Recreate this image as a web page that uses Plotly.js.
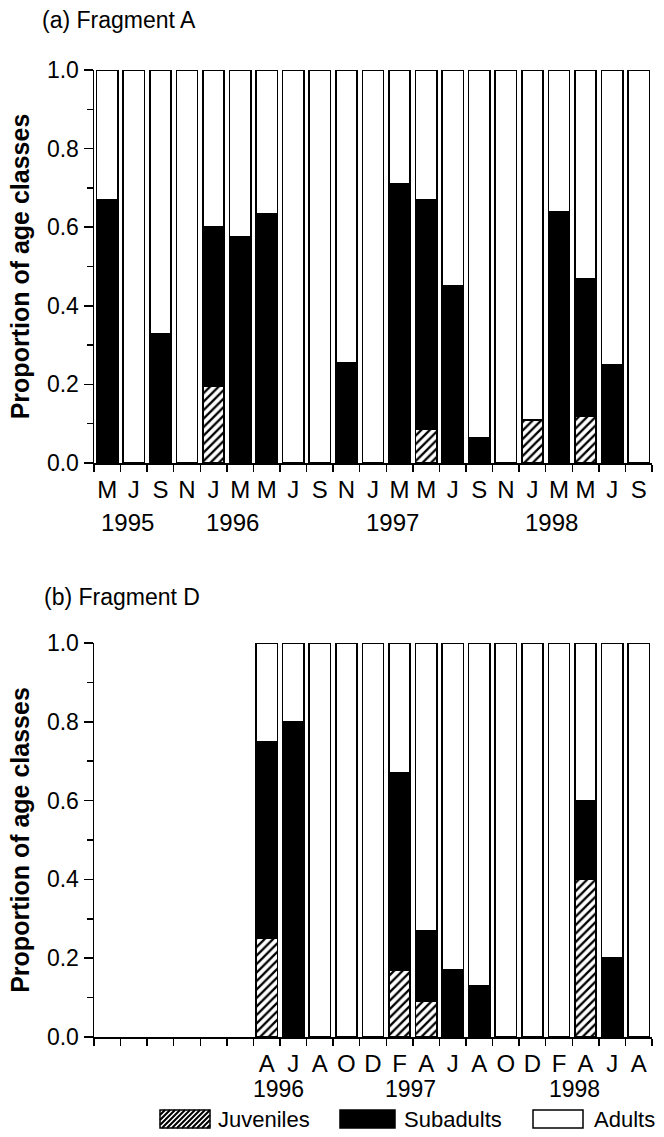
<!DOCTYPE html>
<html>
<head>
<meta charset="utf-8">
<script src="https://cdn.plot.ly/plotly-3.0.1.min.js"></script>
<style>html,body{margin:0;padding:0;background:#fff;}#chart{width:664px;height:1137px;}</style>
</head>
<body>
<div id="chart"></div>
<script>
// ---- Data: (a) Fragment A ----
const monthsA = ['M','J','S','N','J','M','M','J','S','N','J','M','M','J','S','N','J','M','M','J','S'];
const yearsA = ['1995','1996','1997','1998'];
const yearPosA = [0.75, 4.7, 10.75, 16.7];
const juvA   = [null,null,null,null,0.195,null,null,null,null,null,null,null,0.085,null,null,null,0.11,null,0.12,null,null];
const subA   = [0.67,null,0.33,null,0.405,0.575,0.635,null,null,0.255,null,0.71,0.585,0.45,0.065,null,null,0.64,0.35,0.25,null];
const adultA = [0.33,1,0.67,1,0.40,0.425,0.365,1,1,0.745,1,0.29,0.33,0.55,0.935,1,0.89,0.36,0.53,0.75,1];

// ---- Data: (b) Fragment D ----
const monthsD = ['','','','','','','A','J','A','O','D','F','A','J','A','O','D','F','A','J','A'];
const yearsD = ['1996','1997','1998'];
const yearPosD = [6.45, 11.4, 17.6];
const juvD   = [null,null,null,null,null,null,0.25,null,null,null,null,0.17,0.09,null,null,null,null,null,0.40,null,null];
const subD   = [null,null,null,null,null,null,0.50,0.80,null,null,null,0.50,0.18,0.17,0.13,null,null,null,0.20,0.20,null];
const adultD = [null,null,null,null,null,null,0.25,0.20,1,1,1,0.33,0.73,0.83,0.87,1,1,1,0.40,0.80,1];

const seriesNames = ['Juveniles','Subadults','Adults'];

// ---- Layout geometry ----
const W = 664, H = 1137, ML = 94, MR = 12;
const PW = W - ML - MR;
const px2x = p => (p - ML) / PW;
const px2y = p => (H - p) / H;
const FONT = 'Liberation Sans, Arial, Helvetica, sans-serif';

const idx = monthsA.map((_, i) => i);
const bounds = idx.concat([monthsA.length]).map(i => i - 0.5);

const lineStyle = {color:'#000', width:1.5};
const hatch = {shape:'/', fgcolor:'#000', bgcolor:'#fff', size:6, solidity:0.38, fillmode:'replace'};

function traces(juv, sub, adult, xa, ya) {
  return [
    {type:'bar', x:idx, y:juv, name:seriesNames[0], xaxis:xa, yaxis:ya, showlegend:false,
     marker:{color:'#fff', pattern:hatch, line:lineStyle}, hoverinfo:'skip'},
    {type:'bar', x:idx, y:sub, name:seriesNames[1], xaxis:xa, yaxis:ya, showlegend:false,
     marker:{color:'#000', line:lineStyle}, hoverinfo:'skip'},
    {type:'bar', x:idx, y:adult, name:seriesNames[2], xaxis:xa, yaxis:ya, showlegend:false,
     marker:{color:'#fff', line:lineStyle}, hoverinfo:'skip'}
  ];
}

const data = traces(juvA, subA, adultA, 'x', 'y').concat(traces(juvD, subD, adultD, 'x2', 'y2'));

function xaxis(labels, anchor) {
  return {
    anchor: anchor, domain:[0,1], range:[-0.5, labels.length - 0.5],
    tickmode:'array', tickvals: idx, ticktext: labels, ticks:'', ticklabelstandoff: 5,
    tickfont:{size:24, color:'#000', family:FONT},
    showline:true, linecolor:'#000', linewidth:1.5, showgrid:false, zeroline:false,
    minor:{tickmode:'array', tickvals: bounds, ticks:'outside', ticklen:7, tickwidth:1.5, tickcolor:'#000', showgrid:false},
    fixedrange:true
  };
}
function yaxis(domain, anchor) {
  return {
    anchor: anchor, domain: domain, range:[0,1],
    tickmode:'array', tickvals:[0,0.2,0.4,0.6,0.8,1.0], tickformat:'.1f',
    ticks:'outside', ticklen:9, tickwidth:1.5, tickcolor:'#000',
    tickfont:{size:23, color:'#000', family:FONT},
    minor:{tickmode:'array', tickvals:[0.1,0.3,0.5,0.7,0.9], ticks:'outside', ticklen:6, tickwidth:1.5, tickcolor:'#000', showgrid:false},
    showline:true, linecolor:'#000', linewidth:1.5, showgrid:false, zeroline:false,
    title:{text:'<b>Proportion of age classes</b>', font:{size:25, color:'#000', family:FONT}, standoff:10},
    fixedrange:true
  };
}

const annotations = [];
annotations.push({xref:'paper', yref:'paper', x:px2x(40), y:px2y(20), xanchor:'left', yanchor:'middle',
  text:'(a) Fragment A', showarrow:false, font:{size:23, color:'#000', family:FONT}});
annotations.push({xref:'paper', yref:'paper', x:px2x(42), y:px2y(597), xanchor:'left', yanchor:'middle',
  text:'(b) Fragment D', showarrow:false, font:{size:23, color:'#000', family:FONT}});
yearsA.forEach((t, i) => annotations.push({xref:'x', yref:'paper', x:yearPosA[i], y:px2y(522), yanchor:'middle',
  text:t, showarrow:false, font:{size:24, color:'#000', family:FONT}}));
yearsD.forEach((t, i) => annotations.push({xref:'x2', yref:'paper', x:yearPosD[i], y:px2y(1089), yanchor:'middle',
  text:t, showarrow:false, font:{size:23, color:'#000', family:FONT}}));

// ---- Custom legend ----
const shapes = [];
const legY0 = 1110, legY1 = 1128;
const legItems = [
  {x0:160, x1:210, kind:'hatch', label:seriesNames[0], tx:216},
  {x0:340, x1:395, kind:'black', label:seriesNames[1], tx:402},
  {x0:533, x1:583, kind:'white', label:seriesNames[2], tx:592}
];
legItems.forEach(it => {
  if (it.kind === 'hatch') {
    const h = legY1 - legY0, step = 5;
    let path = '';
    for (let s = it.x0 - h; s < it.x1; s += step) {
      let xa = s, ya = legY1, xb = s + h, yb = legY0;
      if (xa < it.x0) { ya = legY1 - (it.x0 - xa); xa = it.x0; }
      if (xb > it.x1) { yb = legY0 + (xb - it.x1); xb = it.x1; }
      if (xb <= xa) continue;
      path += 'M' + px2x(xa) + ',' + px2y(ya) + 'L' + px2x(xb) + ',' + px2y(yb);
    }
    shapes.push({type:'path', xref:'paper', yref:'paper', path:path, line:{color:'#000', width:2}});
  }
  shapes.push({type:'rect', xref:'paper', yref:'paper', x0:px2x(it.x0), x1:px2x(it.x1), y0:px2y(legY1), y1:px2y(legY0),
    fillcolor: it.kind === 'black' ? '#000' : 'rgba(0,0,0,0)', line:{color:'#000', width:1.5}, layer:'above'});
  annotations.push({xref:'paper', yref:'paper', x:px2x(it.tx), y:px2y((legY0 + legY1) / 2), xanchor:'left', yanchor:'middle',
    text:it.label, showarrow:false, font:{size:22, color:'#000', family:FONT}});
});

const layout = {
  width:W, height:H, margin:{l:ML, r:MR, t:0, b:0, autoexpand:false},
  paper_bgcolor:'#fff', plot_bgcolor:'#fff',
  barmode:'stack', bargap:0.2,
  font:{family:FONT, color:'#000'},
  showlegend:false,
  xaxis: xaxis(monthsA, 'y'),
  yaxis: yaxis([px2y(463), px2y(70)], 'x'),
  xaxis2: xaxis(monthsD, 'y2'),
  yaxis2: yaxis([px2y(1037), px2y(643)], 'x2'),
  annotations: annotations,
  shapes: shapes
};

Plotly.newPlot('chart', data, layout, {staticPlot:true, displayModeBar:false});
</script>
</body>
</html>
